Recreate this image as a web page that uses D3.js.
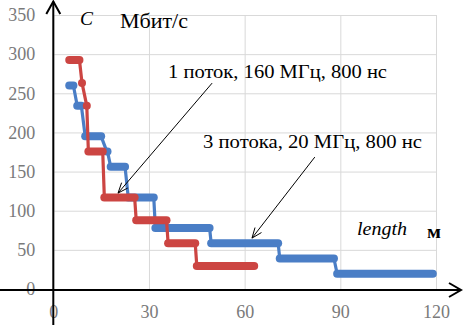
<!DOCTYPE html>
<html><head><meta charset="utf-8">
<script src="https://cdn.jsdelivr.net/npm/d3@7"></script>
<style>body{margin:0;background:#fff} svg{display:block}</style>
</head><body>
<svg id="c" width="463" height="325"></svg>
<script>
// ---- data ----
const xTicks = [0, 30, 60, 90, 120];
const yTicks = [0, 50, 100, 150, 200, 250, 300, 350];

// 1 поток, 160 МГц, 800 нс (red)
const redValues = [292.5, 263.25, 234, 175.5, 117, 87.75, 58.5, 29.25];
const redStart  = [5, 9, 10.5, 11, 16, 26, 36, 45];
const redEnd    = [8.2, 9, 10.5, 15.5, 25.5, 35.5, 44.5, 63];

// 3 потока, 20 МГц, 800 нс (blue)
const blueValues = [260, 234, 195, 175.5, 156, 117, 78, 58.5, 39, 19.5];
const blueStart  = [5, 7.5, 10, 16.8, 18, 23.5, 32, 49.5, 71, 89];
const blueEnd    = [6.3, 8.8, 15, 17, 22.5, 31.5, 49, 70.5, 88, 119];

const seriesNames = ["1 поток, 160 МГц, 800 нс", "3 потока, 20 МГц, 800 нс"];
// ---------------

const svg = d3.select("#c");
const x = d3.scaleLinear().domain([0, 120]).range([53.3, 436]);
const y = d3.scaleLinear().domain([0, 350]).range([289, 15]);

const gridColor = "#d9d9d9";

// horizontal gridlines + y tick labels
const yAx = svg.append("g").attr("transform", `translate(${x(0)},0)`)
  .call(d3.axisLeft(y).tickValues(yTicks).tickSize(-(x(120) - x(0))).tickPadding(18));
yAx.select(".domain").remove();
yAx.selectAll(".tick line").attr("stroke", gridColor).attr("stroke-width", 1);
yAx.selectAll(".tick text").attr("fill", "#7a7a7a")
  .style("font-family", "'Liberation Serif', 'DejaVu Serif', serif").style("font-size", "18px");

// vertical gridlines + x tick labels
const xAx = svg.append("g").attr("transform", `translate(0,${y(0)})`)
  .call(d3.axisBottom(x).tickValues(xTicks).tickSize(-(y(0) - y(350))).tickPadding(16));
xAx.select(".domain").remove();
xAx.selectAll(".tick line").attr("stroke", gridColor).attr("stroke-width", 1);
xAx.selectAll(".tick text").attr("fill", "#7a7a7a")
  .style("font-family", "'Liberation Serif', 'DejaVu Serif', serif").style("font-size", "18px");

// series
function drawSeries(values, starts, ends, color) {
  const pts = [];
  values.forEach((v, i) => { pts.push([starts[i], v]); pts.push([ends[i], v]); });
  const line = d3.line().x(d => x(d[0])).y(d => y(d[1]));
  const g = svg.append("g");
  g.append("path").attr("d", line(pts)).attr("fill", "none")
    .attr("stroke", color).attr("stroke-width", 3.2).attr("stroke-linejoin", "round");
  g.selectAll("line.band").data(values).join("line").attr("class", "band")
    .attr("x1", (d, i) => x(starts[i])).attr("x2", (d, i) => x(ends[i]))
    .attr("y1", d => y(d)).attr("y2", d => y(d))
    .attr("stroke", color).attr("stroke-width", 8).attr("stroke-linecap", "round");
}
drawSeries(blueValues, blueStart, blueEnd, "#4a7ec6");
drawSeries(redValues, redStart, redEnd, "#cc4542");

// axes (black, with arrows)
const axisG = svg.append("g").attr("stroke", "#000").attr("fill", "none");
axisG.append("line").attr("x1", x(0)).attr("x2", x(0)).attr("y1", 1.5).attr("y2", 325).attr("stroke-width", 2);
axisG.append("path").attr("d", `M${x(0) - 7},14 L${x(0)},1.5 L${x(0) + 7},14`).attr("stroke-width", 2);
axisG.append("line").attr("x1", 0).attr("x2", 461).attr("y1", y(0) + 1).attr("y2", y(0) + 1).attr("stroke-width", 2);
axisG.append("path").attr("d", `M449,${y(0) + 1 - 7} L461,${y(0) + 1} L449,${y(0) + 1 + 7}`).attr("stroke-width", 2);

// annotation arrows (data coordinates)
function arrow(x0, y0, x1, y1) {
  const X0 = x(x0), Y0 = y(y0), X1 = x(x1), Y1 = y(y1);
  const ang = Math.atan2(Y0 - Y1, X0 - X1);
  const L = 11, a = 0.38;
  const g = svg.append("g").attr("stroke", "#000").attr("stroke-width", 1).attr("fill", "none");
  g.append("line").attr("x1", X0).attr("y1", Y0).attr("x2", X1).attr("y2", Y1);
  g.append("path").attr("d",
    `M${X1 + L * Math.cos(ang + a)},${Y1 + L * Math.sin(ang + a)} L${X1},${Y1} L${X1 + L * Math.cos(ang - a)},${Y1 + L * Math.sin(ang - a)}`);
}
arrow(49.8, 263, 20.3, 122.5);
arrow(82, 168.5, 62.3, 65);

// texts
const serif = "'Liberation Serif', 'Times New Roman', serif";
function txt(s, px, py, size, opts = {}) {
  const t = svg.append("text").attr("x", px).attr("y", py).text(s)
    .style("font-family", serif).style("font-size", size + "px").attr("fill", "#000");
  if (opts.italic) t.style("font-style", "italic");
  if (opts.bold) t.style("font-weight", "bold");
  if (opts.len) t.attr("textLength", opts.len).attr("lengthAdjust", "spacingAndGlyphs");
  return t;
}
txt("C", 80, 25, 19, { italic: true, len: 13 });
txt("Мбит/с", 120, 28, 20, { len: 68 });
txt(seriesNames[0], 168, 78, 19, { len: 219 });
txt(seriesNames[1], 203, 148, 19, { len: 219 });
txt("length", 357, 235, 19, { italic: true, len: 50 });
txt("м", 427, 238, 19, { bold: true, len: 14 });
</script>
</body></html>
